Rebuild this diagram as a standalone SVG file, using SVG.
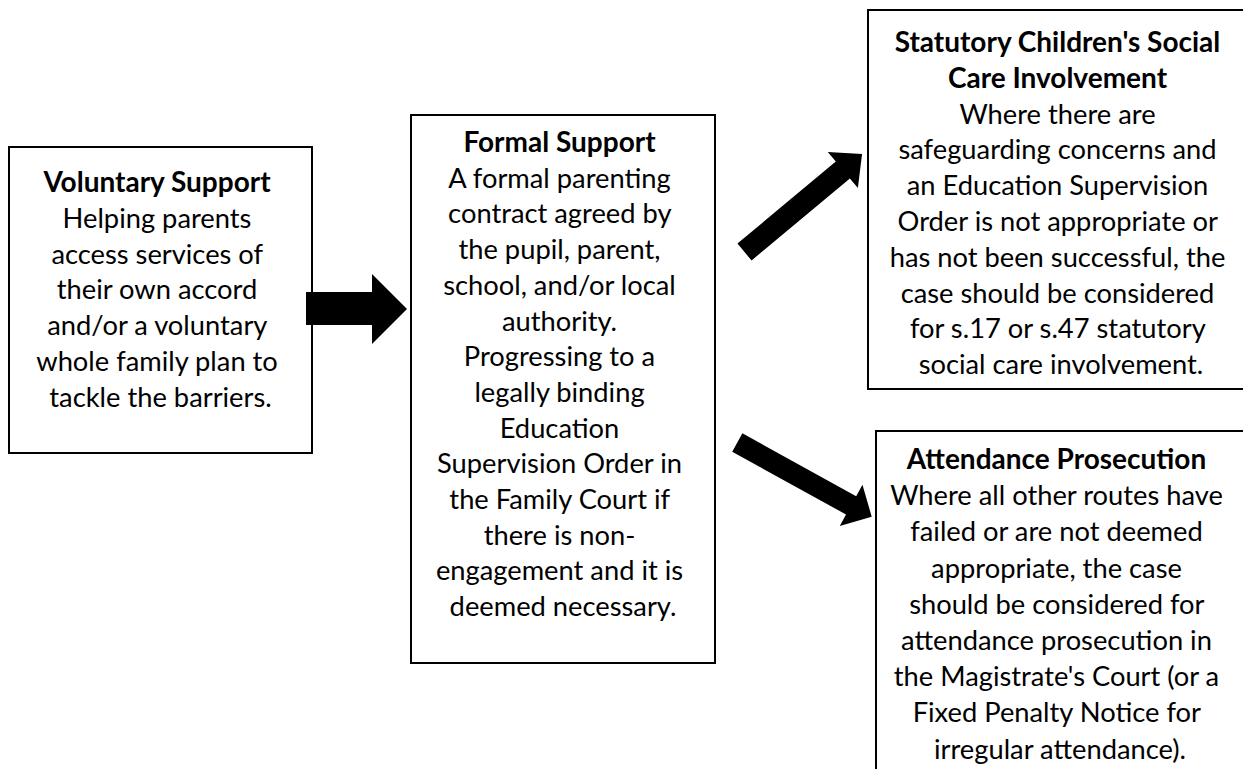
<svg xmlns="http://www.w3.org/2000/svg" width="1243" height="769" viewBox="0 0 1243 769">
<style>
.box{fill:#fff;stroke:#000;stroke-width:2}
.t{font-family:Lato,"Liberation Sans",sans-serif;font-size:27.3px;fill:#000;text-anchor:middle}
.b{font-weight:bold;font-size:28px}
.arr{fill:#000}
</style>
<rect width="1243" height="769" fill="#fff"/>
<g id="voluntary">
<rect class="box" x="9" y="147" width="303" height="306"/>
<text class="t" x="160.5" y="192">
<tspan class="b" x="160.5" dy="0">Voluntary Support</tspan>
<tspan x="160.5" dy="35.8">Helping parents</tspan>
<tspan x="160.5" dy="35.8">access services of</tspan>
<tspan x="160.5" dy="35.8">their own accord</tspan>
<tspan x="160.5" dy="35.8">and/or a voluntary</tspan>
<tspan x="160.5" dy="35.8">whole family plan to</tspan>
<tspan x="160.5" dy="35.8">tackle the barriers.</tspan>
</text>
</g>
<g id="formal">
<rect class="box" x="411" y="115" width="304" height="548"/>
<text class="t" x="563" y="152">
<tspan class="b" x="563" dy="0">Formal Support</tspan>
<tspan x="563" dy="35.7">A formal parenting</tspan>
<tspan x="563" dy="35.7">contract agreed by</tspan>
<tspan x="563" dy="35.7">the pupil, parent,</tspan>
<tspan x="563" dy="35.7">school, and/or local</tspan>
<tspan x="563" dy="35.7">authority.</tspan>
<tspan x="563" dy="35.7">Progressing to a</tspan>
<tspan x="563" dy="35.7">legally binding</tspan>
<tspan x="563" dy="35.7">Education</tspan>
<tspan x="563" dy="35.7">Supervision Order in</tspan>
<tspan x="563" dy="35.7">the Family Court if</tspan>
<tspan x="563" dy="35.7">there is non-</tspan>
<tspan x="563" dy="35.7">engagement and it is</tspan>
<tspan x="563" dy="35.7">deemed necessary.</tspan>
</text>
</g>
<g id="statutory">
<rect class="box" x="868" y="10" width="380" height="379"/>
<text class="t" x="1061" y="52">
<tspan class="b" x="1061" dy="0">Statutory Children's Social</tspan>
<tspan class="b" x="1061" dy="35.8">Care Involvement</tspan>
<tspan x="1061" dy="35.8">Where there are</tspan>
<tspan x="1061" dy="35.8">safeguarding concerns and</tspan>
<tspan x="1061" dy="35.8">an Education Supervision</tspan>
<tspan x="1061" dy="35.8">Order is not appropriate or</tspan>
<tspan x="1061" dy="35.8">has not been successful, the</tspan>
<tspan x="1061" dy="35.8">case should be considered</tspan>
<tspan x="1061" dy="35.8">for s.17 or s.47 statutory</tspan>
<tspan x="1061" dy="35.8">social care involvement.</tspan>
</text>
</g>
<g id="prosecution">
<rect class="box" x="876" y="431" width="380" height="350"/>
<text class="t" x="1060" y="469">
<tspan class="b" x="1060" dy="0">Attendance Prosecution</tspan>
<tspan x="1060" dy="36.2">Where all other routes have</tspan>
<tspan x="1060" dy="36.2">failed or are not deemed</tspan>
<tspan x="1060" dy="36.2">appropriate, the case</tspan>
<tspan x="1060" dy="36.2">should be considered for</tspan>
<tspan x="1060" dy="36.2">attendance prosecution in</tspan>
<tspan x="1060" dy="36.2">the Magistrate's Court (or a</tspan>
<tspan x="1060" dy="36.2">Fixed Penalty Notice for</tspan>
<tspan x="1060" dy="36.2">irregular attendance).</tspan>
</text>
</g>
<g id="connectors">
<polygon class="arr" points="306,292 372,292 372,274 407,309 372,344 372,325 306,325"/>
<polygon class="arr" transform="translate(744.5,252) rotate(-39.8)" points="0,-11 128,-11 128,-23.5 153,0 128,23.5 128,11 0,11"/>
<polygon class="arr" transform="translate(737.3,442.5) rotate(28.9)" points="0,-10.5 130,-10.5 130,-23.5 153.5,0 130,23.5 130,10.5 0,10.5"/>
</g>
</svg>
